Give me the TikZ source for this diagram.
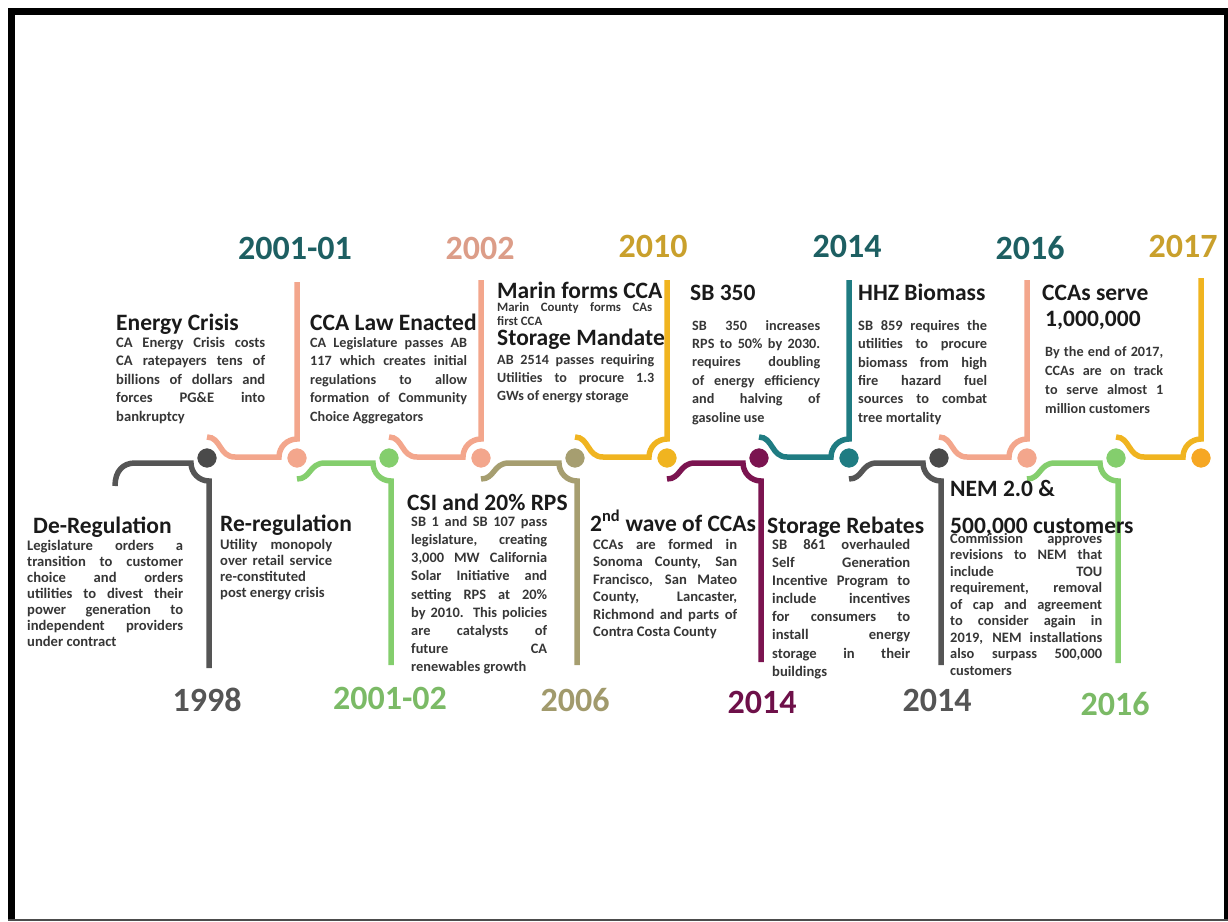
\documentclass[tikz,border=0pt]{standalone}
\usepackage{fontspec}
\setmainfont{Carlito}
\usetikzlibrary{calc}
\definecolor{cgray}{HTML}{555555}
\definecolor{cgraydot}{HTML}{4A4A4A}
\definecolor{csalmon}{HTML}{F3A68C}
\definecolor{cgreen}{HTML}{84CE6D}
\definecolor{colive}{HTML}{A69E70}
\definecolor{cgold}{HTML}{F0B420}
\definecolor{corange}{HTML}{F6A723}
\definecolor{cpurple}{HTML}{7B1450}
\definecolor{cteal}{HTML}{1F7C82}
\definecolor{ytealdark}{HTML}{1D5F62}
\definecolor{ygold}{HTML}{C9A02C}
\definecolor{ysalmon}{HTML}{DC9D88}
\definecolor{ygreen}{HTML}{7BBA66}
\definecolor{yolive}{HTML}{A19A6C}
\definecolor{ypurple}{HTML}{6E1049}
\definecolor{ygray}{HTML}{555555}
\definecolor{titlec}{HTML}{1A1A1A}
\definecolor{bodyc}{HTML}{363636}
\newlength\bw
\newcommand\jl[1]{\makebox[\bw][s]{#1}}
\tikzset{
  seg/.style={line width=5.5pt},
  dot/.style={circle, minimum size=21pt, inner sep=0pt, fill=#1, draw=white, line width=1.5pt},
  yearlbl/.style={anchor=base, inner sep=0pt, font=\fontsize{34}{34}\selectfont\bfseries, text=#1},
  ttl/.style={anchor=base west, inner sep=0pt, font=\fontsize{23.5}{26}\selectfont\bfseries, text=titlec},
  body/.style={anchor=north west, inner sep=0pt, align=left, text=bodyc},
}
\newcommand\bfs[2]{\fontsize{#1}{#2}\selectfont\bfseries}
\begin{document}
\begin{tikzpicture}[x=1pt,y=-1pt]
\useasboundingbox (0,0) rectangle (1228,921);
% frame
\fill[black] (8,8) rectangle (15,921);
\fill[black] (8,8) rectangle (1228,15);
\fill[black] (1224,8) rectangle (1228,921);
\fill[black!70] (8,919) rectangle (1228,921);

% circle centres
\coordinate (k0) at (115,458);
\coordinate (k1) at (207,458);
\coordinate (k2) at (297,458);
\coordinate (k3) at (389,458);
\coordinate (k4) at (481,458);
\coordinate (k5) at (575,458);
\coordinate (k6) at (667,458);
\coordinate (k7) at (759,458);
\coordinate (k8) at (849,458);
\coordinate (k9) at (939,458);
\coordinate (k10) at (1027,458);
\coordinate (k11) at (1116,458);
\coordinate (k12) at (1201,458);

% stem ends
\coordinate (e1) at (209,668);
\coordinate (e2) at (297,282);
\coordinate (e3) at (391,665);
\coordinate (e4) at (481,280);
\coordinate (e5) at (577,665);
\coordinate (e6) at (667,280);
\coordinate (e7) at (761,662);
\coordinate (e8) at (849,280);
\coordinate (e9) at (941,665);
\coordinate (e10) at (1027,280);
\coordinate (e11) at (1118,663);
\coordinate (e12) at (1201,278);

% first segment (no circle before it)
\draw[seg,cgray] ($(k0)+(0,28)$) .. controls +(0,-15) and +(-12,0) .. ($(k0)+(20,5)$)
   -- ($(k1)+(-16,5)$) arc[start angle=180,end angle=90,radius=18] -- (e1);
% down segments
\foreach \p/\c/\e/\col in {k2/k3/e3/cgreen, k4/k5/e5/colive, k6/k7/e7/cpurple, k8/k9/e9/cgray, k10/k11/e11/cgreen}{
  \draw[seg,\col] ($(\p)+(0,21)$) .. controls +(14,0) and +(-16,0) .. ($(\p)+(28,5)$)
     -- ($(\c)+(-16,5)$) arc[start angle=180,end angle=90,radius=18] -- (\e);
}
% up segments
\foreach \p/\c/\e/\col in {k1/k2/e2/csalmon, k3/k4/e4/csalmon, k5/k6/e6/cgold, k7/k8/e8/cteal, k9/k10/e10/csalmon, k11/k12/e12/cgold}{
  \draw[seg,\col] ($(\p)+(0,-21)$) .. controls +(14,0) and +(-16,0) .. ($(\p)+(28,-1)$)
     -- ($(\c)+(-18,-1)$) arc[start angle=180,end angle=270,radius=18] -- (\e);
}

% circles
\node[dot=cgraydot] (n1) at (k1) {};
\node[dot=csalmon]  (n2) at (k2) {};
\node[dot=cgreen]   (n3) at (k3) {};
\node[dot=csalmon]  (n4) at (k4) {};
\node[dot=colive]   (n5) at (k5) {};
\node[dot=cgold]    (n6) at (k6) {};
\node[dot=cpurple]  (n7) at (k7) {};
\node[dot=cteal]    (n8) at (k8) {};
\node[dot=cgraydot] (n9) at (k9) {};
\node[dot=csalmon]  (n10) at (k10) {};
\node[dot=cgreen]   (n11) at (k11) {};
\node[dot=corange]  (n12) at (k12) {};

% years
\node[yearlbl=ytealdark] (y1) at (295,259) {2001-01};
\node[yearlbl=ysalmon]   (y2) at (480,259) {2002};
\node[yearlbl=ygold]     (y3) at (653,257) {2010};
\node[yearlbl=ytealdark] (y4) at (847,257) {2014};
\node[yearlbl=ytealdark] (y5) at (1030,259) {2016};
\node[yearlbl=ygold]     (y6) at (1183,257) {2017};
\node[yearlbl=ygray]     (y7) at (207,711) {1998};
\node[yearlbl=ygreen]    (y8) at (390,709) {2001-02};
\node[yearlbl=yolive]    (y9) at (575,711) {2006};
\node[yearlbl=ypurple]   (y10) at (762,713) {2014};
\node[yearlbl=ygray]     (y11) at (937,711) {2014};
\node[yearlbl=ygreen]    (y12) at (1115,715) {2016};

% titles
\node[ttl] (t1) at (116,330) {Energy Crisis};
\node[ttl] (t2) at (310,330) {CCA Law Enacted};
\node[ttl] (t3) at (497,298) {Marin forms CCA};
\node[ttl] (t4) at (497,345) {Storage Mandate};
\node[ttl] (t5) at (690,300) {SB 350};
\node[ttl] (t6) at (858,300) {HHZ Biomass};
\node[ttl] (t7) at (1042,300) {CCAs serve};
\node[ttl] (t8) at (1045,326) {1,000,000};
\node[ttl] (t9) at (33,533) {De-Regulation};
\node[ttl] (t10) at (220,531) {Re-regulation};
\node[ttl] (t11) at (407,510) {CSI and 20\% RPS};
\node[ttl] (t12) at (590,531) {2\textsuperscript{nd} wave of CCAs};
\node[ttl] (t13) at (767,533) {Storage Rebates};
\node[ttl] (t14) at (950,496) {NEM 2.0 \&};
\node[ttl] (t15) at (950,533) {500,000 customers};

% bodies
\setlength\bw{149pt}
\node[body, font=\bfs{14.6}{18.5}] (b1) at (116,337) {\jl{CA Energy Crisis costs}\\ \jl{CA ratepayers tens of}\\ \jl{billions of dollars and}\\ \jl{forces PG\&E into}\\ bankruptcy};
\setlength\bw{157pt}
\node[body, font=\bfs{14.2}{18.5}] (b2) at (310,337) {\jl{CA Legislature passes AB}\\ \jl{117 which creates initial}\\ \jl{regulations to allow}\\ \jl{formation of Community}\\ Choice Aggregators};
\setlength\bw{155pt}
\node[body, font=\bfs{12.8}{14}] (b3) at (497,302) {\jl{Marin County forms CAs}\\ first CCA};
\setlength\bw{157pt}
\node[body, font=\bfs{14.1}{18}] (b4) at (497,354) {\jl{AB 2514 passes requiring}\\ \jl{Utilities to procure 1.3}\\ GWs of energy storage};
\setlength\bw{128pt}
\node[body, font=\bfs{14.2}{18.4}] (b5) at (692,320) {\jl{SB 350 increases}\\ \jl{RPS to 50\% by 2030.}\\ \jl{requires doubling}\\ \jl{of energy efficiency}\\ \jl{and halving of}\\ gasoline use};
\setlength\bw{129pt}
\node[body, font=\bfs{14.4}{18.4}] (b6) at (858,320) {\jl{SB 859 requires the}\\ \jl{utilities to procure}\\ \jl{biomass from high}\\ \jl{fire hazard fuel}\\ \jl{sources to combat}\\ tree mortality};
\setlength\bw{118pt}
\node[body, font=\bfs{14.2}{19}] (b7) at (1045,346) {\jl{By the end of 2017,}\\ \jl{CCAs are on track}\\ \jl{to serve almost 1}\\ million customers};
\setlength\bw{156pt}
\node[body, font=\bfs{14.6}{16}] (b8) at (27,540) {\jl{Legislature orders a}\\ \jl{transition to customer}\\ \jl{choice and orders}\\ \jl{utilities to divest their}\\ \jl{power generation to}\\ \jl{independent providers}\\ under contract};
\setlength\bw{112pt}
\node[body, font=\bfs{14.6}{16}] (b9) at (220,539) {\jl{Utility monopoly}\\ \jl{over retail service}\\ re-constituted\\ post energy crisis};
\setlength\bw{136pt}
\node[body, font=\bfs{14.4}{18.2}] (b10) at (411,516) {\jl{SB 1 and SB 107 pass}\\ \jl{legislature, creating}\\ \jl{3,000 MW California}\\ \jl{Solar Initiative and}\\ \jl{setting RPS at 20\%}\\ \jl{by 2010. This policies}\\ \jl{are catalysts of}\\ \jl{future CA}\\ renewables growth};
\setlength\bw{144pt}
\node[body, font=\bfs{14.6}{17.5}] (b11) at (593,539) {\jl{CCAs are formed in}\\ \jl{Sonoma County, San}\\ \jl{Francisco, San Mateo}\\ \jl{County, Lancaster,}\\ \jl{Richmond and parts of}\\ Contra Costa County};
\setlength\bw{138pt}
\node[body, font=\bfs{14.6}{18.1}] (b12) at (772,539) {\jl{SB 861 overhauled}\\ \jl{Self Generation}\\ \jl{Incentive Program to}\\ \jl{include incentives}\\ \jl{for consumers to}\\ \jl{install energy}\\ \jl{storage in their}\\ buildings};
\setlength\bw{152pt}
\node[body, font=\bfs{14.4}{16.5}] (b13) at (950,533) {\jl{Commission approves}\\ \jl{revisions to NEM that}\\ \jl{include TOU}\\ \jl{requirement, removal}\\ \jl{of cap and agreement}\\ \jl{to consider again in}\\ \jl{2019, NEM installations}\\ \jl{also surpass 500,000}\\ customers};
\end{tikzpicture}
\end{document}
